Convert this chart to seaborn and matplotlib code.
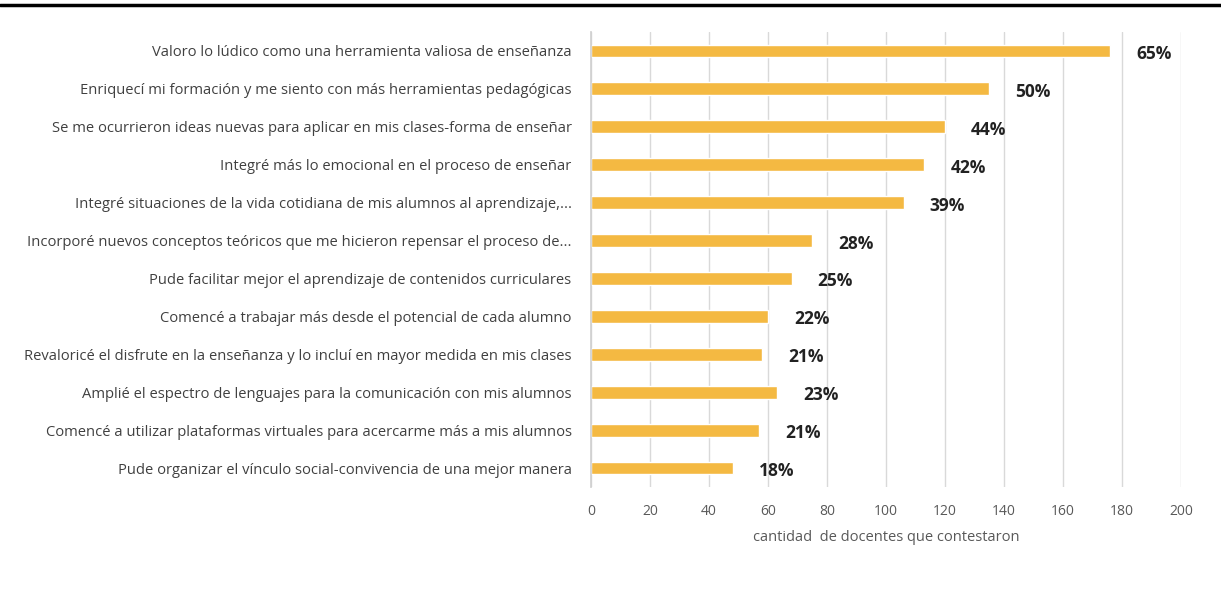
import matplotlib
matplotlib.use("Agg")
import matplotlib.pyplot as plt
from matplotlib.lines import Line2D
import seaborn as sns
import pandas as pd

categories = [
    "Valoro lo lúdico como una herramienta valiosa de enseñanza",
    "Enriquecí mi formación y me siento con más herramientas pedagógicas",
    "Se me ocurrieron ideas nuevas para aplicar en mis clases-forma de enseñar",
    "Integré más lo emocional en el proceso de enseñar",
    "Integré situaciones de la vida cotidiana de mis alumnos al aprendizaje,...",
    "Incorporé nuevos conceptos teóricos que me hicieron repensar el proceso de...",
    "Pude facilitar mejor el aprendizaje de contenidos curriculares",
    "Comencé a trabajar más desde el potencial de cada alumno",
    "Revaloricé el disfrute en la enseñanza y lo incluí en mayor medida en mis clases",
    "Amplié el espectro de lenguajes para la comunicación con mis alumnos",
    "Comencé a utilizar plataformas virtuales para acercarme más a mis alumnos",
    "Pude organizar el vínculo social-convivencia de una mejor manera",
]
counts = [176, 135, 120, 113, 106, 75, 68, 60, 58, 63, 57, 48]
percent_labels = ["65%", "50%", "44%", "42%", "39%", "28%",
                  "25%", "22%", "21%", "23%", "21%", "18%"]
x_ticks = [0, 20, 40, 60, 80, 100, 120, 140, 160, 180, 200]
x_title = "cantidad  de docentes que contestaron"

sns.set_theme(style="white")
plt.rcParams["font.family"] = ["Open Sans", "DejaVu Sans"]

W, H = 1221, 614
fig = plt.figure(figsize=(W / 100, H / 100), dpi=100)
ax = fig.add_axes([591 / W, 1 - 487 / H, (1181 - 591) / W, (487 - 32) / H])

df = pd.DataFrame({"categoria": categories, "docentes": counts})
sns.barplot(data=df, y="categoria", x="docentes", color="#F4B942",
            saturation=1, width=0.34, ax=ax)

ax.set_xlim(0, 200)
ax.set_xticks(x_ticks)
ax.grid(axis="x", color="#d9d9d9", lw=1)
ax.set_axisbelow(True)
for side in ["top", "right", "bottom"]:
    ax.spines[side].set_visible(False)
ax.spines["left"].set_color("#d0d0d0")

ax.tick_params(axis="x", length=6, color="#e0e0e0", pad=6,
               labelsize=10, labelcolor="#595959")
ax.tick_params(axis="y", length=0, pad=14, labelsize=10.6, labelcolor="#404040")
ax.set_ylabel("")
ax.set_xlabel(x_title, fontsize=10.5, color="#595959", labelpad=8)

# value labels sit a little to the right of each bar, slightly low
for bar, text in zip(ax.patches, percent_labels):
    ax.annotate(text, (bar.get_width(), bar.get_y() + bar.get_height() / 2),
                xytext=(26, -3), textcoords="offset pixels",
                ha="left", va="center", fontsize=12.5, fontweight="bold",
                color="#222222")

fig.add_artist(Line2D([0, 1], [1 - 5 / H] * 2, color="black", lw=2.5,
                      transform=fig.transFigure))

fig.savefig("out.png", dpi=100)
